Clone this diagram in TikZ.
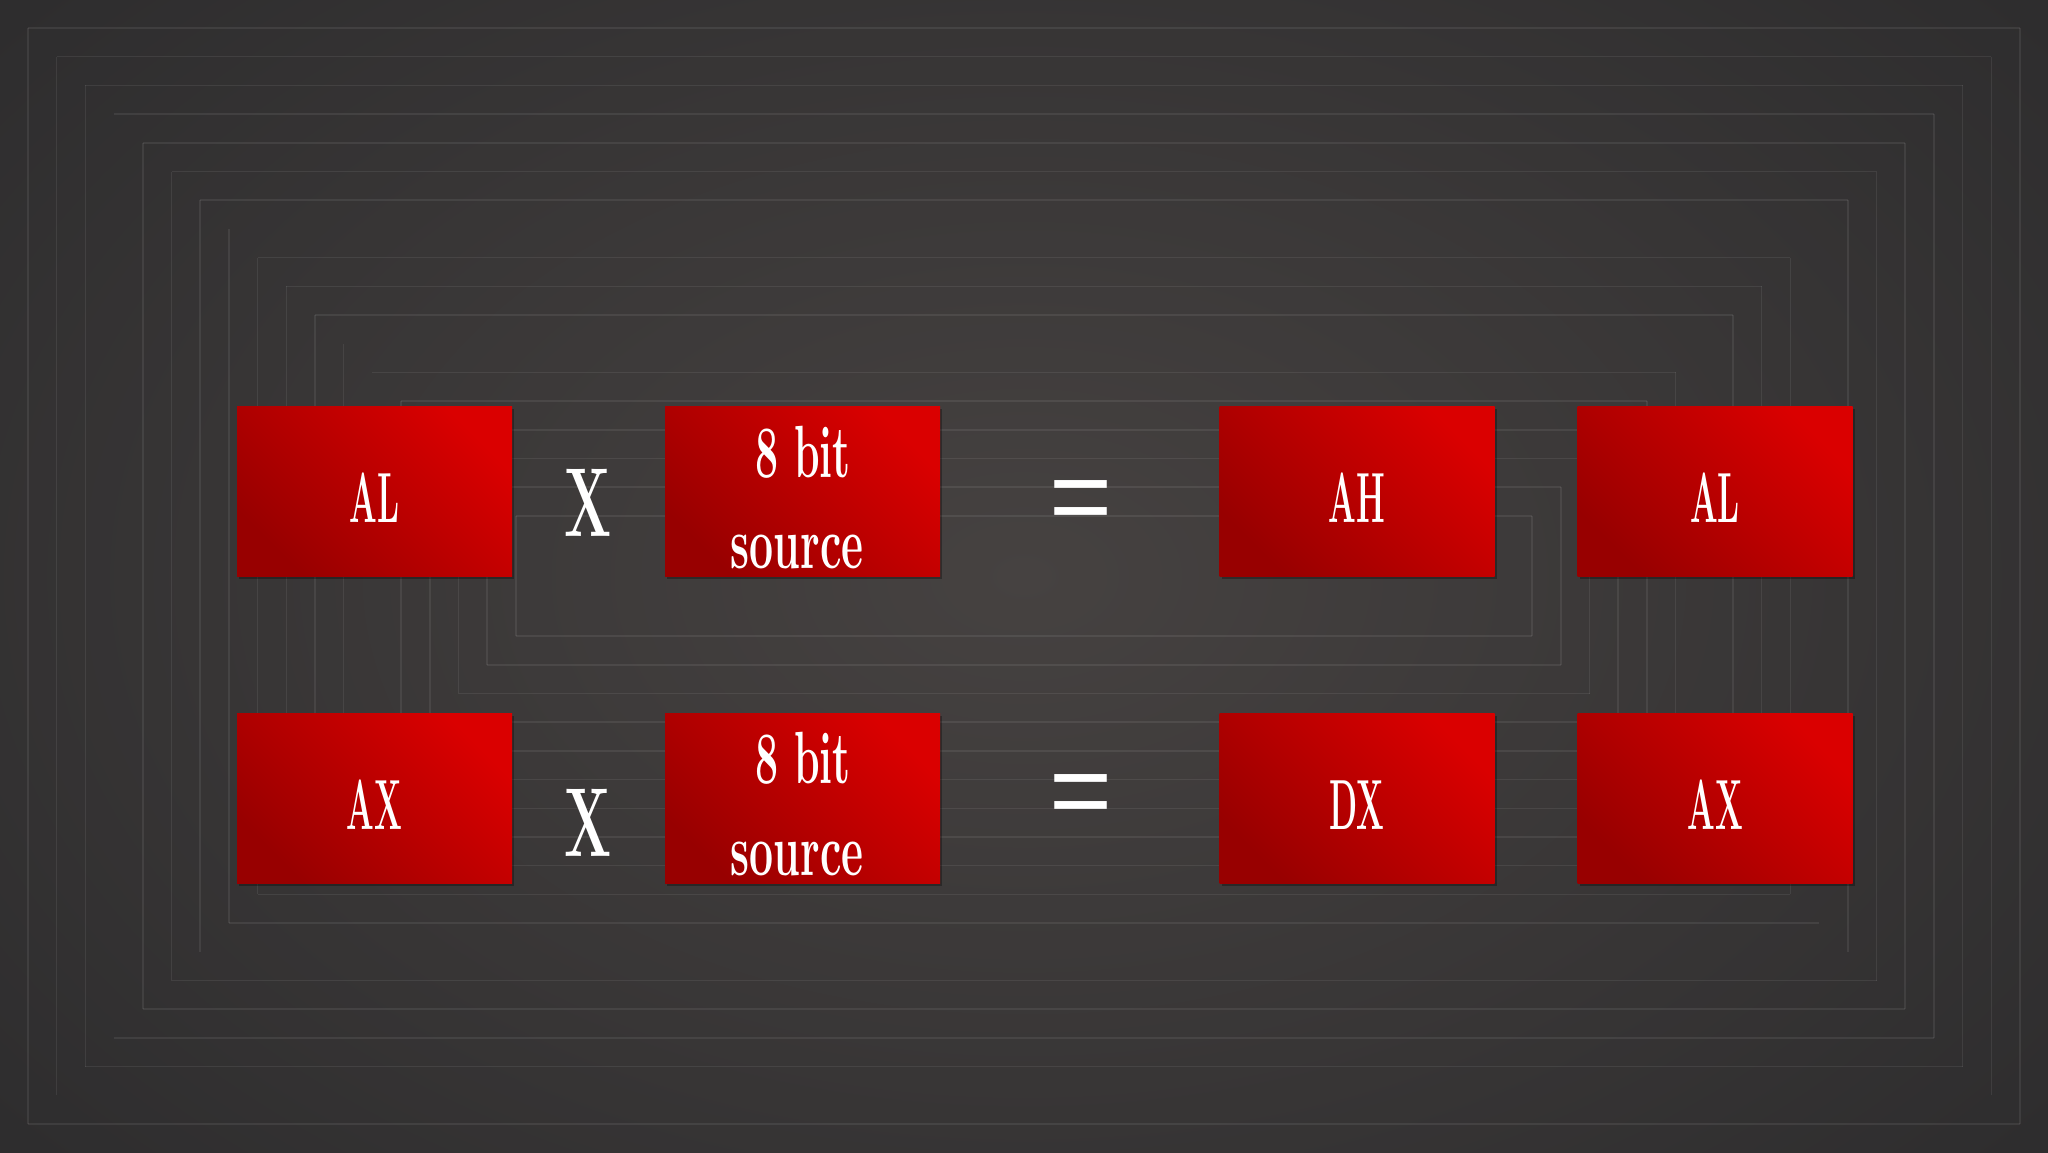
\documentclass[tikz,border=0pt]{standalone}
\usepackage{fontspec}
\newfontfamily\eqfont{Liberation Sans}
\usetikzlibrary{shadows}
\definecolor{bgin}{HTML}{464241}
\definecolor{bgout}{HTML}{2E2D2E}
\definecolor{redA}{HTML}{980000}
\definecolor{redB}{HTML}{DA0000}
\newcommand{\cnd}[2]{\scalebox{#1}[1]{#2}}
\tikzset{
  regbox/.style={draw=none, minimum width=275pt, minimum height=170pt, inner sep=0pt,
    left color=redA, right color=redB, shading angle=135,
    drop shadow={shadow xshift=2pt, shadow yshift=-3pt, fill=black, opacity=0.3}},
  caplbl/.style={text=white, inner sep=0pt, anchor=base, font=\fontsize{71}{80}\selectfont\bfseries},
  lowlbl/.style={text=white, inner sep=0pt, anchor=base, font=\fontsize{74}{80}\selectfont\bfseries},
  oplbl/.style={text=white, inner sep=0pt, anchor=base, font=\fontsize{98}{100}\selectfont\bfseries},
  eqlbl/.style={text=white, inner sep=0pt, anchor=center, font=\fontsize{108}{110}\selectfont\eqfont},
  frameline/.style={draw=white, draw opacity=0.075, line width=1.5pt}
}
\begin{document}
\begin{tikzpicture}[x=1pt,y=-1pt]
\useasboundingbox (0,0) rectangle (2048,1152);
\shade[inner color=bgin, outer color=bgout] (-300,-300) rectangle (2348,1452);
% nested frames: k / top,right,bottom,left
\foreach \k/\T/\R/\B/\L in {0/1/1/1/1,1/1/1/0/1,2/1/1/1/1,3/1/1/1/0,4/1/1/1/1,5/1/1/1/1,6/1/1/0/1,7/0/0/1/1,8/1/1/1/1,9/1/1/1/1,10/1/1/1/1,11/0/0/1/1,12/1/1/1/0,13/1/1/1/1,14/1/1/1/1,15/1/1/1/1,16/1/1/1/1,17/1/1/1/1}{
  \pgfmathsetmacro{\d}{28+28.7*\k}
  \pgfmathsetmacro{\xr}{2048-\d}
  \pgfmathsetmacro{\yb}{1152-\d}
  \ifnum\T=1 \draw[frameline] (\d,\d) -- (\xr,\d); \fi
  \ifnum\R=1 \draw[frameline] (\xr,\d) -- (\xr,\yb); \fi
  \ifnum\B=1 \draw[frameline] (\d,\yb) -- (\xr,\yb); \fi
  \ifnum\L=1 \draw[frameline] (\d,\d) -- (\d,\yb); \fi
}
% row 1
\node[regbox] (b11) at (374.5,491) {};
\node[regbox] (b12) at (802.5,491) {};
\node[regbox] (b13) at (1357,491) {};
\node[regbox] (b14) at (1715,491) {};
% row 2
\node[regbox] (b21) at (374.5,798) {};
\node[regbox] (b22) at (802.5,798) {};
\node[regbox] (b23) at (1357,798) {};
\node[regbox] (b24) at (1715,798) {};
% labels row 1
\node[caplbl] (t11) at (374.5,522) {\cnd{0.46}{AL}};
\node[oplbl] (x1) at (588,536) {\cnd{0.565}{X}};
\node[lowlbl] (t12a) at (803,477) {\cnd{0.555}{8 bit}};
\node[lowlbl] (t12b) at (797,568) {\cnd{0.578}{source}};
\node[eqlbl] (e1) at (1081,507) {=};
\node[caplbl] (t13) at (1357,522) {\cnd{0.46}{AH}};
\node[caplbl] (t14) at (1715,522) {\cnd{0.46}{AL}};
% labels row 2
\node[caplbl] (t21) at (374.5,829) {\cnd{0.46}{AX}};
\node[oplbl] (x2) at (588,856) {\cnd{0.565}{X}};
\node[lowlbl] (t22a) at (803,783) {\cnd{0.555}{8 bit}};
\node[lowlbl] (t22b) at (797,875) {\cnd{0.578}{source}};
\node[eqlbl] (e2) at (1081,801) {=};
\node[caplbl] (t23) at (1357,829) {\cnd{0.46}{DX}};
\node[caplbl] (t24) at (1715,829) {\cnd{0.46}{AX}};
\end{tikzpicture}
\end{document}
